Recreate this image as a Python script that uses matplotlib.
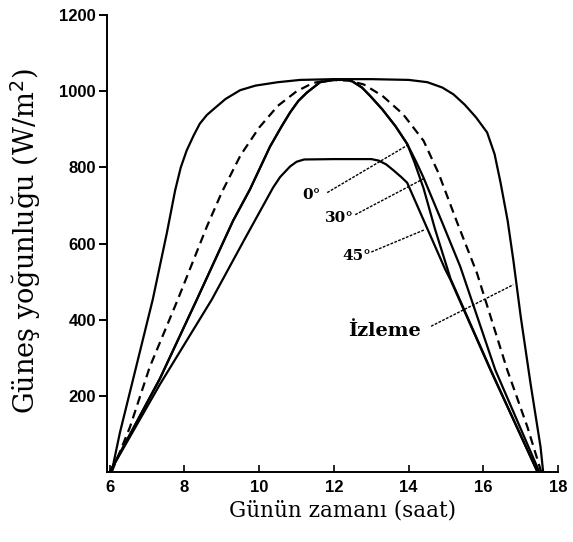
import matplotlib
matplotlib.use("Agg")
import matplotlib.pyplot as plt

# values (hour of day, W/m^2)
track_h = [6.05, 6.27, 6.62, 7.15, 7.53, 7.75, 7.9, 8.06, 8.25, 8.41, 8.6, 8.8, 9.1, 9.49,
           9.9, 10.5, 11.1, 12.0, 13.0, 14.0, 14.5, 14.9, 15.2, 15.5, 15.8, 16.1, 16.3,
           16.46, 16.65, 16.8, 17.0, 17.26, 17.53, 17.6]
track_w = [0, 103, 242, 453, 629, 740, 800, 845, 885, 915, 938, 955, 980, 1003,
           1015, 1024, 1030, 1032, 1032, 1030, 1024, 1010, 992, 965, 932, 892, 835,
           760, 660, 558, 408, 234, 66, 0]

dash_h = [6.05, 6.54, 7.07, 7.82, 8.6, 9.0, 9.5, 10.0, 10.5, 11.0, 11.44, 11.9, 12.4,
          12.8, 13.3, 13.85, 14.4, 14.8, 15.3, 15.83, 16.64, 17.18, 17.55]
dash_w = [0, 118, 276, 453, 645, 735, 832, 905, 962, 1000, 1022, 1030, 1028,
          1018, 988, 940, 870, 785, 655, 522, 268, 118, 0]

t0_h = [6.0, 7.34, 8.33, 9.3, 9.75, 10.29, 10.6, 10.83, 11.05, 11.28, 11.63, 12.0, 12.43,
        12.75, 12.97, 13.3, 13.65, 13.96, 14.15, 14.4, 14.7, 15.12, 16.19, 17.45]
t0_w = [0, 245, 453, 660, 742, 855, 908, 945, 975, 997, 1024, 1030, 1030,
        1010, 988, 952, 908, 862, 815, 745, 640, 508, 270, 0]

t30_h = [6.0, 7.34, 8.33, 9.3, 9.75, 10.29, 10.6, 10.83, 11.05, 11.28, 11.63, 12.0, 12.43,
         12.75, 12.97, 13.3, 13.65, 13.96, 14.2, 14.39, 14.9, 15.38, 16.32, 17.5]
t30_w = [0, 245, 453, 660, 742, 855, 908, 945, 975, 997, 1024, 1030, 1030,
         1010, 988, 952, 908, 862, 815, 775, 655, 540, 268, 0]

t45_h = [6.0, 7.34, 8.73, 9.6, 10.37, 10.56, 10.83, 11.0, 11.2, 12.0, 13.0, 13.2, 13.4,
         13.6, 13.8, 13.96, 14.98, 15.12, 16.19, 17.45]
t45_w = [0, 230, 453, 610, 747, 775, 803, 815, 821, 822, 822, 818, 808,
         792, 775, 760, 532, 505, 268, 0]

labels = ["0°", "30°", "45°", "İzleme"]
label_pos = [(11.4, 728), (12.15, 668), (12.6, 568), (13.35, 370)]
leader_from = [(11.82, 734), (12.57, 676), (13.0, 578), (14.6, 383)]
leader_to = [(13.96, 858), (14.39, 770), (14.44, 637), (16.8, 492)]

serif = "DejaVu Serif"

fig = plt.figure(figsize=(5.73, 5.42), dpi=100)
ax = fig.add_axes([0.187, 0.129, 0.787, 0.843])

ax.plot(track_h, track_w, color="black", lw=1.6)
ax.plot(dash_h, dash_w, color="black", lw=1.6, ls=(0, (4, 2.5)))
ax.plot(t0_h, t0_w, color="black", lw=1.6)
ax.plot(t30_h, t30_w, color="black", lw=1.6)
ax.plot(t45_h, t45_w, color="black", lw=1.6)

for txt, (x, y), a, b in zip(labels, label_pos, leader_from, leader_to):
    size = 14 if txt == "İzleme" else 11
    ax.text(x, y, txt, family=serif, fontsize=size, fontweight="bold",
            ha="center", va="center")
    ax.plot([a[0], b[0]], [a[1], b[1]], color="black", lw=1.0, ls=(0, (2, 1)))

ax.set_xlim(5.93, 18)
ax.set_ylim(0, 1200)
ax.set_xticks([6, 8, 10, 12, 14, 16, 18])
ax.set_yticks([200, 400, 600, 800, 1000, 1200])
for s in ["top", "right"]:
    ax.spines[s].set_visible(False)
for s in ["left", "bottom"]:
    ax.spines[s].set_linewidth(1.4)
ax.tick_params(axis="y", direction="out", length=6, width=1.4, pad=2)
ax.tick_params(axis="x", direction="in", length=5, width=1.2, pad=6)
for lab in ax.get_xticklabels() + ax.get_yticklabels():
    lab.set_family("Liberation Sans")
    lab.set_fontweight("bold")
    lab.set_fontsize(12)

ax.set_xlabel("Günün zamanı (saat)", family=serif, fontsize=15.5)
ax.set_ylabel("Güneş yoğunluğu (W/m$^2$)", family=serif, fontsize=19.5)
ax.xaxis.set_label_coords(0.523, -0.059)
ax.yaxis.set_label_coords(-0.142, 0.505)

fig.savefig("out.png", dpi=100)
